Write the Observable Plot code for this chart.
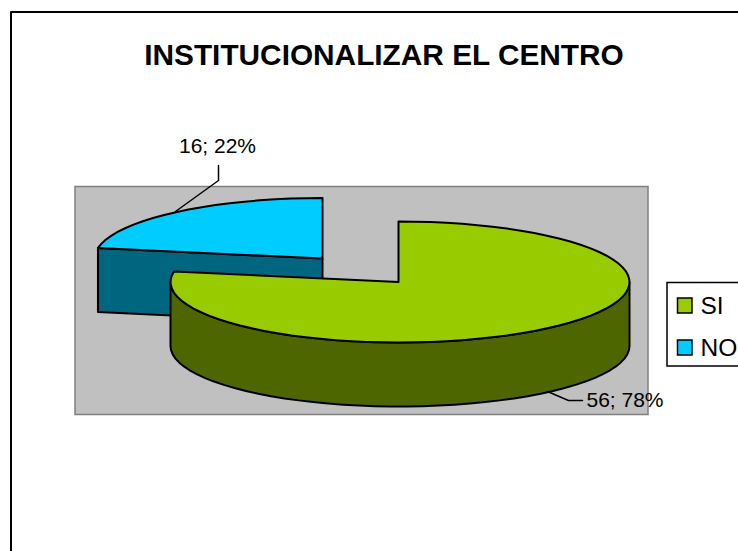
<!DOCTYPE html>
<html>
<head>
<meta charset="utf-8">
<style>html,body{margin:0;padding:0;background:#fff;overflow:hidden}svg{display:block}</style>
<script src="https://cdn.jsdelivr.net/npm/d3@7"></script>
<script src="https://cdn.jsdelivr.net/npm/@observablehq/plot@0.6"></script>
</head>
<body>
<script>
const chartTitle = "INSTITUCIONALIZAR EL CENTRO";
const categories = ["SI", "NO"];
const values = [56, 16];
const topColors = ["#99CC00", "#00CCFF"];
const sideColors = ["#4D6600", "#006680"];

const font = "Liberation Sans, Arial, sans-serif";
const total = d3.sum(values);
const labels = values.map(v => `${v}; ${Math.round(v / total * 100)}%`);
const sweep = v => v / total * 2 * Math.PI;
const rxRight = 231, rxLeft = 228, ry = 60.5, depth = 64;

// angle measured clockwise from 12 o'clock, flattened into an ellipse
const pt = (c, a, dy = 0) => {
  const s = Math.sin(a);
  return [c[0] + (s < 0 ? rxLeft : rxRight) * s, c[1] - ry * Math.cos(a) + dy];
};
const arc = (c, a0, a1, dy = 0) => {
  const n = Math.max(2, Math.ceil(Math.abs(a1 - a0) / 0.07));
  return d3.range(n + 1).map(i => pt(c, a0 + (a1 - a0) * i / n, dy));
};
const closed = p => [...p, p[0]];
const shape = (p, fill, sw = 2) => Plot.line(closed(p), {
  x: d => d[0], y: d => d[1], fill, stroke: "#000", strokeWidth: sw, strokeLinejoin: "round", curve: "linear"
});

const siEnd = sweep(values[0]);
const centerSi = [398, 281.5];
const centerNo = [322, 258];

// NO slice runs from the end of SI up to 12 o'clock, pulled away from the pie
const noEdge = pt(centerNo, siEnd);
const noCut = [noEdge, centerNo, [centerNo[0], centerNo[1] + depth], [noEdge[0], noEdge[1] + depth]];

// SI slice
const siTop = [centerSi, ...arc(centerSi, 0, siEnd)];
const siSide = [...arc(centerSi, Math.PI / 2, 1.5 * Math.PI), ...arc(centerSi, 1.5 * Math.PI, Math.PI / 2, depth)];

const leaderNo = [[175, 211], [218, 180], [218, 165]];
const leaderSi = [[547, 391], [568, 400], [582, 400]];

const legendRows = categories.map((c, i) => ({c, i, fill: topColors[i], y: 305.5 + i * 42}));

const plot = Plot.plot({
  width: 738, height: 551, margin: 0,
  style: {background: "#fff"},
  x: {axis: null, domain: [0, 738]},
  y: {axis: null, domain: [551, 0]},
  marks: [
    // chart area border
    Plot.line([[10.5, 551], [10.5, 11.5], [738, 11.5]], {x: d => d[0], y: d => d[1], stroke: "#000", strokeWidth: 2}),
    // plot wall
    Plot.rect([0], {x1: 75, x2: 648, y1: 186.5, y2: 414.5, fill: "#C0C0C0", stroke: "#808080", strokeWidth: 1.5}),
    // NO slice
    shape(noCut, sideColors[1]),
    shape([centerNo, ...arc(centerNo, siEnd, 2 * Math.PI)], topColors[1]),
    // SI slice
    shape(siSide, sideColors[0]),
    shape(siTop, topColors[0]),
    // leaders
    Plot.line(leaderNo, {x: d => d[0], y: d => d[1], stroke: "#000", strokeWidth: 1.5}),
    Plot.line(leaderSi, {x: d => d[0], y: d => d[1], stroke: "#000", strokeWidth: 1.5}),
    // data labels
    Plot.text([labels[1]], {x: 217, y: 146, text: d => d, fontSize: 21, fontFamily: font, fill: "#000"}),
    Plot.text([labels[0]], {x: 624.5, y: 400, text: d => d, fontSize: 21, fontFamily: font, fill: "#000"}),
    // title
    Plot.text([chartTitle], {x: 383.5, y: 55, text: d => d, fontSize: 29.8, fontWeight: "bold", fontFamily: font, fill: "#000"}),
    // legend
    Plot.rect([0], {x1: 667, x2: 760, y1: 282.5, y2: 366, fill: "#fff", stroke: "#000", strokeWidth: 1.5}),
    Plot.rect(legendRows, {x1: 677.5, x2: 692, y1: d => d.y - 7.5, y2: d => d.y + 7.5, fill: "fill", stroke: "#000", strokeWidth: 1.5}),
    Plot.text(legendRows, {x: 700, y: "y", text: "c", textAnchor: "start", fontSize: 24.5, fontFamily: font, fill: "#000"})
  ]
});
document.body.appendChild(plot);
</script>
</body>
</html>
